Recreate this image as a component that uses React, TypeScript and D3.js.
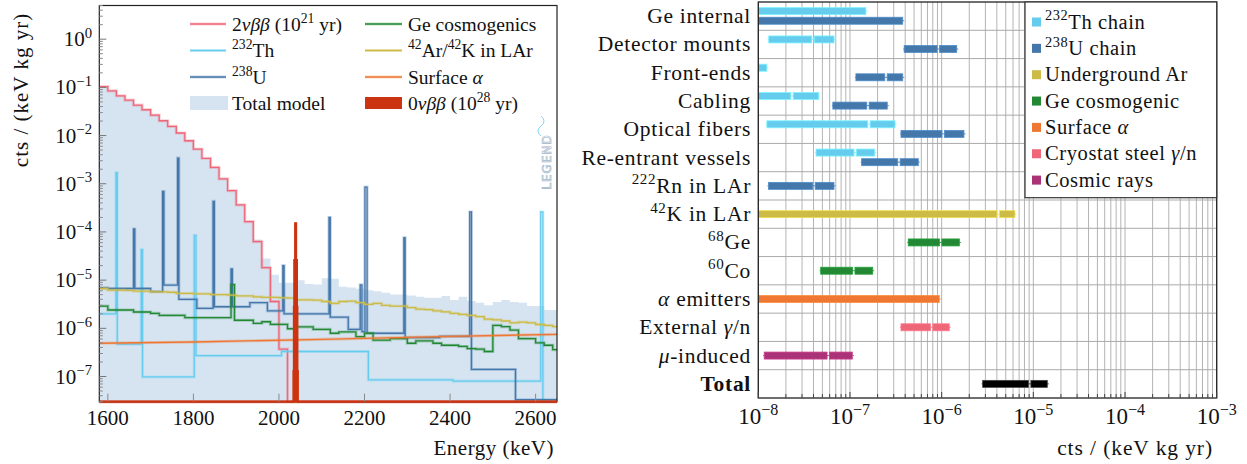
import React from "react";
import * as d3 from "d3";

// ================= LEFT PANEL DATA =================
const energyDomain = [1580, 2650];
const countsDomain = [3e-8, 5];
const energyTicks = [1600, 1800, 2000, 2200, 2400, 2600];
const countsTickExps = [-7, -6, -5, -4, -3, -2, -1, 0];
const binStart = 1580;
const binWidth = 20;

// Total model (20 keV bins from 1580 keV)
const totalModel = [
  0.105, 0.085, 0.067, 0.055, 0.043, 0.035, 0.027, 0.0205, 0.0157, 0.0115,
  0.0079, 0.0053, 0.0034, 0.0022, 0.00128, 7.3e-4, 3.7e-4, 1.7e-4, 7.0e-5, 2.8e-5,
  1.3e-5, 8.8e-6, 8.8e-6, 1.0e-5, 8.3e-6, 8.1e-6, 1.1e-5, 1.07e-5, 7.3e-6, 7.0e-6,
  6.6e-6, 6.2e-6, 5.9e-6, 5.5e-6, 5.06e-6, 5.06e-6, 4.8e-6, 4.5e-6, 4.3e-6, 4.3e-6,
  4.67e-6, 3.86e-6, 4.5e-6, 3.67e-6, 3.4e-6, 3.0e-6, 3.5e-6, 3.86e-6, 3.5e-6, 3.4e-6,
  2.9e-6, 2.9e-6, 2.4e-6, 2.4e-6,
];

// 2νββ (20 keV bins from 1580 keV up to 2020 keV, zero above)
const twoNuBB = [
  0.104, 0.0847, 0.0668, 0.0543, 0.0428, 0.0343, 0.0265, 0.0203, 0.0155, 0.0113,
  0.0078, 0.00525, 0.00337, 0.00219, 0.00126, 7.2e-4, 3.64e-4, 1.64e-4, 6.3e-5, 1.81e-5,
  3.6e-6, 3.7e-7,
];

// 42Ar/42K in LAr (20 keV bins from 1580 keV)
const ar42 = [
  6.7e-6, 6.2e-6, 6.2e-6, 6.1e-6, 5.9e-6, 5.9e-6, 5.7e-6, 5.7e-6, 5.6e-6, 5.3e-6,
  5.3e-6, 5.2e-6, 5.2e-6, 5.0e-6, 5.0e-6, 4.9e-6, 4.7e-6, 4.7e-6, 4.5e-6, 4.4e-6,
  4.4e-6, 4.3e-6, 4.25e-6, 3.9e-6, 3.9e-6, 3.85e-6, 3.6e-6, 3.3e-6, 3.6e-6, 3.65e-6,
  3.4e-6, 3.15e-6, 3.3e-6, 3.0e-6, 2.9e-6, 2.9e-6, 2.7e-6, 2.5e-6, 2.45e-6, 2.3e-6,
  2.2e-6, 2.05e-6, 1.95e-6, 1.85e-6, 1.75e-6, 1.55e-6, 1.5e-6, 1.42e-6, 1.3e-6, 1.35e-6,
  1.3e-6, 1.2e-6, 1.15e-6, 1.08e-6,
];

// Ge cosmogenics
const geEdges = [
  1580, 1600, 1660, 1700, 1720, 1780, 1888, 1896, 1940, 1960, 1980, 2020, 2040, 2080,
  2120, 2140, 2180, 2200, 2220, 2260, 2300, 2320, 2360, 2380, 2420, 2440, 2460, 2480,
  2500, 2520, 2540, 2560, 2600, 2620, 2640, 2650,
];
const geValues = [
  2.9e-6, 2.4e-6, 2.18e-6, 2.04e-6, 1.86e-6, 1.66e-6, 8.1e-6, 1.47e-6, 1.27e-6, 1.37e-6,
  1.21e-6, 9.8e-7, 1.07e-6, 9.5e-7, 7.9e-7, 8.4e-7, 6.7e-7, 7.9e-7, 5.7e-7, 6.1e-7,
  4.9e-7, 5.5e-7, 4.9e-7, 4.45e-7, 4.2e-7, 3.8e-7, 3.7e-7, 3.3e-7, 1.15e-6, 1.08e-6,
  9.2e-7, 6.1e-7, 5.0e-7, 4.45e-7, 3.6e-7,
];

// 232Th
const thEdges = [1580, 1619, 1622, 1678, 1681, 1802, 1806, 2006, 2209, 2407, 2612, 2617, 2650];
const thValues = [2.0e-6, 1.7e-3, 4.7e-7, 4.3e-5, 9.8e-8, 8.5e-5, 2.7e-7, 3.3e-7, 8.5e-8, 8.0e-8, 2.6e-4, 0];

// 238U
const uEdges = [
  1580, 1600, 1660, 1663, 1700, 1728, 1731, 1763, 1766, 1808, 1846, 1849, 1888, 1891,
  1932, 1973, 2009, 2012, 2117, 2120, 2162, 2190, 2194, 2201, 2206, 2292, 2295, 2376,
  2446, 2450, 2553, 2650,
];
const uValues = [
  6.9e-6, 6.7e-6, 1.15e-4, 6.7e-6, 5.8e-6, 6.9e-4, 7.9e-6, 3.4e-3, 4.0e-6, 2.6e-6,
  4.3e-4, 2.8e-6, 1.7e-5, 2.8e-6, 3.4e-6, 2.3e-6, 2.0e-5, 2.0e-6, 2.0e-4, 1.7e-6,
  9.5e-7, 8.0e-6, 8.5e-7, 8.5e-4, 7.9e-7, 7.6e-5, 6.4e-7, 6.8e-7, 2.6e-4, 1.4e-7,
  3.3e-8,
];

// Surface alpha
const alphaEnergy = [1580, 1800, 2100, 2400, 2650];
const alphaValues = [4.9e-7, 5.2e-7, 5.9e-7, 6.8e-7, 7.5e-7];

// 0νββ (10^28 yr)
const zeroNuEdges = [1580, 2034, 2035, 2036, 2037, 2038, 2039, 2040, 2041, 2042, 2043, 2044, 2650];
const zeroNuValues = [0, 1.3e-7, 2.8e-6, 2.6e-5, 2.6e-5, 1.5e-4, 1.5e-4, 2.6e-5, 2.6e-5, 2.8e-6, 1.3e-7, 0];

const leftLegendCol1 = ["2*{νββ} (10^{21} yr)", "^{232}Th", "^{238}U", "Total model"];
const leftLegendCol2 = ["Ge cosmogenics", "^{42}Ar/^{42}K in LAr", "Surface *{α}", "0*{νββ} (10^{28} yr)"];

// ================= RIGHT PANEL DATA =================
const rateDomain = [1e-8, 1e-3];
const rateTickExps = [-8, -7, -6, -5, -4, -3];
const rowLabels = [
  "Ge internal", "Detector mounts", "Front-ends", "Cabling", "Optical fibers",
  "Re-entrant vessels", "^{222}Rn in LAr", "^{42}K in LAr", "^{68}Ge", "^{60}Co",
  "*{α} emitters", "External *{γ}/n", "*{μ}-induced", "!{Total}",
];
const barRow = [0, 0, 1, 1, 2, 2, 3, 3, 4, 4, 5, 5, 6, 7, 8, 9, 10, 11, 12, 13];
const barSource = [
  "th", "u", "th", "u", "th", "u", "th", "u", "th", "u", "th", "u",
  "u", "ar", "ge", "ge", "alpha", "steel", "cosmic", "total",
];
const barLow = [
  1e-9, 1e-9, 1.3e-8, 3.9e-7, 1e-9, 1.16e-7, 1e-9, 6.5e-8, 1.24e-8, 3.6e-7,
  4.26e-8, 1.34e-7, 1.29e-8, 1e-9, 4.32e-7, 4.79e-8, 1e-9, 3.6e-7, 1.16e-8, 2.8e-6,
];
const barBest = [
  0, 0, 3.95e-8, 9.2e-7, 0, 2.47e-7, 2.33e-8, 1.57e-7, 1.61e-7, 1.04e-6,
  1.14e-7, 3.42e-7, 4.05e-8, 4.14e-6, 9.75e-7, 1.1e-7, 0, 7.78e-7, 5.8e-8, 9.12e-6,
];
const barHigh = [
  1.49e-7, 3.76e-7, 6.7e-8, 1.46e-6, 1.24e-8, 3.76e-7, 4.56e-8, 2.55e-7, 3.1e-7, 1.75e-6,
  1.86e-7, 5.56e-7, 6.69e-8, 6.3e-6, 1.56e-6, 1.77e-7, 9.42e-7, 1.21e-6, 1.06e-7, 1.42e-5,
];
const legendKeys = ["th", "u", "ar", "ge", "alpha", "steel", "cosmic"];
const legendLabels = [
  "^{232}Th chain", "^{238}U chain", "Underground Ar", "Ge cosmogenic",
  "Surface *{α}", "Cryostat steel *{γ}/n", "Cosmic rays",
];

// ================= STYLE =================
const C = {
  th: "#66ccee",
  u: "#4477aa",
  ar: "#ccbb44",
  ge: "#228833",
  alpha: "#ee7733",
  steel: "#ee6677",
  cosmic: "#aa3377",
  total: "#000000",
  twoNu: "#ee6677",
  zeroNu: "#cc3311",
  fill: "#d6e4f2",
} as Record<string, string>;
const FONT = "Liberation Serif, DejaVu Serif, Noto Serif, serif";

type Part = { t: string; sup?: boolean; it?: boolean; b?: boolean };
function parse(s: string): Part[] {
  const parts: Part[] = [];
  const re = /([\^*!])\{([^}]*)\}|([^\^*!]+)/g;
  let m: RegExpExecArray | null;
  while ((m = re.exec(s))) {
    if (m[1]) parts.push({ t: m[2], sup: m[1] === "^", it: m[1] === "*", b: m[1] === "!" });
    else parts.push({ t: m[3] });
  }
  return parts;
}

function Rich(props: {
  s: string; x: number; y: number; size: number; anchor?: string; ls?: number;
  supScale?: number; raise?: number; fill?: string; transform?: string;
}) {
  const { s, x, y, size, anchor = "start", ls = 0, supScale = 0.7, raise = 0.4, fill = "#111", transform } = props;
  const parts = parse(s);
  let inSup = false;
  const kids = parts.map((p, i) => {
    let dy: number | undefined;
    if (p.sup && !inSup) { dy = -raise * size; inSup = true; }
    else if (!p.sup && inSup) { dy = raise * size; inSup = false; }
    return (
      <tspan key={i} dy={dy} fontSize={p.sup ? size * supScale : size}
        fontStyle={p.it ? "italic" : undefined} fontWeight={p.b ? "bold" : undefined}>
        {p.t}
      </tspan>
    );
  });
  return (
    <text x={x} y={y} fontSize={size} textAnchor={anchor as any} letterSpacing={ls}
      fill={fill} style={{ fontFamily: FONT }} transform={transform}>
      {kids}
    </text>
  );
}

export default function App() {
  const W = 1247, H = 464;

  // ---------- left scales ----------
  const L = { x0: 99.3, x1: 557, y0: 5.5, y1: 401.7 };
  const xL = d3.scaleLinear().domain(energyDomain).range([L.x0, L.x1]);
  const yL = d3.scaleLog().domain(countsDomain).range([L.y1, L.y0]).clamp(true);

  const uniformEdges = (n: number) =>
    d3.range(n + 1).map((i) => Math.min(binStart + i * binWidth, energyDomain[1]));

  const stepD = (edges: number[], vals: number[]) => {
    let d = "";
    vals.forEach((v, i) => {
      const xa = xL(edges[i]), xb = xL(edges[i + 1]);
      const yy = yL(Math.max(v, 1e-12));
      d += (i === 0 ? "M" : "L") + xa.toFixed(2) + "," + yy.toFixed(2) + "L" + xb.toFixed(2) + "," + yy.toFixed(2);
    });
    return d;
  };
  const areaD = (edges: number[], vals: number[]) =>
    stepD(edges, vals) + `L${xL(edges[edges.length - 1])},${L.y1}L${xL(edges[0])},${L.y1}Z`;

  const totalEdges = uniformEdges(totalModel.length);
  const arEdges = uniformEdges(ar42.length);
  const twoNuEdges = uniformEdges(twoNuBB.length).concat([energyDomain[1]]);
  const twoNuVals = twoNuBB.concat([0]);

  const alphaLine = d3.line<number>()
    .x((_, i) => xL(alphaEnergy[i]))
    .y((v) => yL(v))(alphaValues) as string;

  const leftMinor: number[] = [];
  for (let k = -8; k <= 0; k++) for (let m = 2; m <= 9; m++) {
    const v = m * Math.pow(10, k);
    if (v >= countsDomain[0] && v <= countsDomain[1]) leftMinor.push(v);
  }

  const line = (d: string, color: string, w = 1.3, key?: string) => (
    <g key={key}>
      <path d={d} fill="none" stroke={color} strokeWidth={w + 1.8} strokeOpacity={0.3} strokeLinejoin="miter" />
      <path d={d} fill="none" stroke={color} strokeWidth={w} strokeLinejoin="miter" />
    </g>
  );

  // ---------- right scales ----------
  const R = { x0: 758.3, x1: 1216.7, y0: 2, y1: 398 };
  const xR = d3.scaleLog().domain(rateDomain).range([R.x0, R.x1]).clamp(true);
  const yR = d3.scaleBand<number>().domain(d3.range(rowLabels.length)).range([R.y0, R.y1]);
  const bw = yR.bandwidth();
  const rightMinor: number[] = [];
  for (let k = -8; k <= -4; k++) for (let m = 1; m <= 9; m++) rightMinor.push(m * Math.pow(10, k));
  rightMinor.push(1e-3);
  const rowCount = d3.rollup(barRow, (v) => v.length, (d) => d);

  const barH = 7;

  return (
    <svg width={W} height={H} viewBox={`0 0 ${W} ${H}`}
      style={{ position: "absolute", left: 0, top: 0, background: "#fff" }}>
      <defs>
        <clipPath id="clipL">
          <rect x={L.x0} y={L.y0} width={L.x1 - L.x0} height={L.y1 - L.y0 + 1} />
        </clipPath>
        <clipPath id="clipR">
          <rect x={R.x0} y={R.y0} width={R.x1 - R.x0} height={R.y1 - R.y0} />
        </clipPath>
      </defs>

      {/* ================= LEFT PANEL ================= */}
      <g clipPath="url(#clipL)">
        <path d={areaD(totalEdges, totalModel)} fill={C.fill} stroke="none" />
        {line(stepD(twoNuEdges, twoNuVals), C.twoNu, 1.3, "2nu")}
        {line(stepD(thEdges, thValues), C.th, 1.3, "th")}
        {line(stepD(uEdges, uValues), C.u, 1.3, "u")}
        {line(stepD(geEdges, geValues), C.ge, 1.3, "ge")}
        {line(stepD(arEdges, ar42), C.ar, 1.3, "ar")}
        {line(alphaLine, C.alpha, 1.3, "alpha")}
        <path d={areaD(zeroNuEdges, zeroNuValues)} fill={C.zeroNu} stroke={C.zeroNu} strokeWidth={1.2} />
        <path d={stepD(zeroNuEdges, zeroNuValues)} fill="none" stroke={C.zeroNu} strokeWidth={2.2} />
      </g>

      {/* LEGEND logo */}
      <g transform="translate(551,162) rotate(-90)">
        <text x={0} y={0} textAnchor="middle" fontFamily="'DejaVu Sans', sans-serif" fontSize={12}
          letterSpacing={1} fill="none" stroke="#9fb4c8" strokeWidth={0.6}>LEGEND</text>
        <path d="M 26,-10 q 5,-6 10,0 t 10,0" fill="none" stroke="#66ccee" strokeWidth={0.8} />
      </g>

      {/* left axes frame */}
      <rect x={L.x0} y={L.y0} width={L.x1 - L.x0} height={L.y1 - L.y0} fill="none" stroke="#222" strokeWidth={1.2} />
      {line(stepD([energyDomain[0], energyDomain[1]], [0]), C.zeroNu, 1.6, "bottom")}

      {/* left y ticks */}
      {leftMinor.map((v, i) => (
        <line key={"lm" + i} x1={L.x0} x2={L.x0 + 3.5} y1={yL(v)} y2={yL(v)} stroke="#888" strokeWidth={1} />
      ))}
      {countsTickExps.map((k) => (
        <g key={"lt" + k}>
          <line x1={L.x0} x2={L.x0 + 7} y1={yL(Math.pow(10, k))} y2={yL(Math.pow(10, k))} stroke="#777" strokeWidth={1} />
          <Rich s={`10^{${k < 0 ? "−" + -k : k}}`} x={92} y={yL(Math.pow(10, k)) + 7} size={21} anchor="end" />
        </g>
      ))}
      {/* left x ticks */}
      {energyTicks.map((e) => (
        <g key={"xt" + e}>
          <line x1={xL(e)} x2={xL(e)} y1={L.y1} y2={L.y1 - 8} stroke="#888" strokeWidth={1} />
          <Rich s={String(e)} x={xL(e)} y={425} size={21} anchor="middle" />
        </g>
      ))}
      <Rich s="Energy (keV)" x={554} y={455} size={21} anchor="end" ls={0.5} />
      <Rich s="cts / (keV kg yr)" x={0} y={0} size={21} anchor="middle" ls={1} transform="translate(28,90) rotate(-90)" />

      {/* left legend */}
      {leftLegendCol1.map((s, i) => {
        const cy = [24, 50.5, 77, 103][i];
        const key = ["twoNu", "th", "u", "fill"][i];
        return (
          <g key={"lg1" + i}>
            {key === "fill" ? (
              <rect x={190} y={cy - 7} width={38} height={14} fill={C.fill} />
            ) : (
              line(`M190,${cy}L226,${cy}`, C[key], 1.3)
            )}
            <Rich s={s} x={232} y={cy + 6.5} size={19.5} />
          </g>
        );
      })}
      {leftLegendCol2.map((s, i) => {
        const cy = [24, 50.5, 77, 103][i];
        const key = ["ge", "ar", "alpha", "zeroNu"][i];
        return (
          <g key={"lg2" + i}>
            {key === "zeroNu" ? (
              <rect x={365} y={cy - 6} width={37} height={12} fill={C.zeroNu} />
            ) : (
              line(`M365,${cy}L402,${cy}`, C[key], 1.3)
            )}
            <Rich s={s} x={408} y={cy + 6.5} size={19.5} />
          </g>
        );
      })}

      {/* ================= RIGHT PANEL ================= */}
      <g>
        {rightMinor.map((v, i) => (
          <line key={"rg" + i} x1={xR(v)} x2={xR(v)} y1={R.y0} y2={R.y1} stroke="#b4b4b4" strokeWidth={1} />
        ))}
        {d3.range(1, rowLabels.length).map((i) => (
          <line key={"rh" + i} x1={R.x0} x2={R.x1} y1={yR(i)!} y2={yR(i)!} stroke="#aaa" strokeWidth={1} />
        ))}
      </g>
      <g clipPath="url(#clipR)">
        {barRow.map((r, i) => {
          const src = barSource[i];
          const two = (rowCount.get(r) || 1) > 1;
          const off = two ? (src === "th" ? -5 : 4.6) : 0;
          const cy = yR(r)! + bw / 2 + off;
          const xa = xR(barLow[i]);
          const xb = xR(barHigh[i]);
          const col = C[src];
          const edge = src === "total" ? "#444" : (d3.color(col) as any).brighter(0.5).formatHex();
          const segs: [number, number][] = [];
          if (barBest[i] > 0) {
            const xm = xR(barBest[i]);
            segs.push([xa, xm - 1.2], [xm + 1.2, xb]);
          } else segs.push([xa, xb]);
          return (
            <g key={"bar" + i}>
              <line x1={xa - 1} x2={xb + 1.5} y1={cy} y2={cy} stroke={edge} strokeWidth={1} />
              {segs.map(([a, b], j) => (
                <rect key={j} x={a} y={cy - barH / 2} width={Math.max(0, b - a)} height={barH}
                  fill={col} stroke={edge} strokeWidth={0.8} />
              ))}
            </g>
          );
        })}
      </g>
      {/* right frame */}
      <rect x={R.x0} y={R.y0} width={R.x1 - R.x0} height={R.y1 - R.y0} fill="none" stroke="#222" strokeWidth={1.3} />
      {rightMinor.map((v, i) => {
        const major = Math.abs(Math.log10(v) - Math.round(Math.log10(v))) < 1e-9;
        return (
          <line key={"rt" + i} x1={xR(v)} x2={xR(v)} y1={R.y1} y2={R.y1 - (major ? 6 : 4)} stroke="#444" strokeWidth={1} />
        );
      })}
      {rateTickExps.map((k) => (
        <Rich key={"rx" + k} s={`10^{−${-k}}`} x={xR(Math.pow(10, k))} y={424} size={23} anchor="middle" />
      ))}
      <Rich s="cts / (keV kg yr)" x={1213} y={455} size={21.5} anchor="end" ls={0.9} />
      {rowLabels.map((s, i) => (
        <Rich key={"rl" + i} s={s} x={751} y={yR(i)! + bw / 2 + 7} size={21.5} anchor="end" ls={0.7} />
      ))}

      {/* right legend */}
      <rect x={1025} y={R.y0} width={R.x1 - 1025} height={195.7} fill="#fff" stroke="#333" strokeWidth={1.2} />
      {legendKeys.map((k, i) => {
        const cy = 22 + i * 26.35;
        return (
          <g key={"rlg" + i}>
            <rect x={1032} y={cy - 4.5} width={9} height={9} fill={C[k]} />
            <Rich s={legendLabels[i]} x={1045} y={cy + 6.5} size={20.5} ls={0.6} />
          </g>
        );
      })}
    </svg>
  );
}
